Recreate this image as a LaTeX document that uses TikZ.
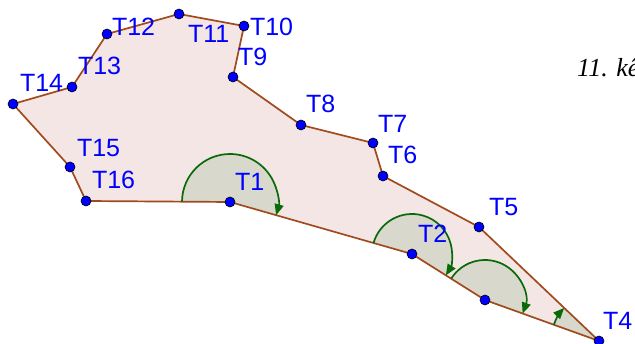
\documentclass[tikz,border=0pt]{standalone}
\usepackage{fontspec}
\setmainfont{Liberation Sans}
\newfontfamily\serifit{Liberation Serif}[Scale=1]
\usetikzlibrary{arrows.meta,calc}
\definecolor{edgebrown}{HTML}{A04A1E}
\definecolor{polyfill}{HTML}{F3E6E4}
\definecolor{secfill}{HTML}{D8D8CC}
\definecolor{arcgreen}{HTML}{0A6A0A}
\definecolor{ptblue}{HTML}{0000FF}
\tikzset{
  edge/.style={draw=edgebrown, line width=1.7pt, line join=round},
  sector/.style={fill=secfill},
  arcline/.style={draw=arcgreen, line width=1.7pt, -{Triangle[length=11pt,width=9pt]}},
  pt/.style={circle, fill=ptblue, draw=black, line width=0.6pt, minimum size=10pt, inner sep=0pt},
  lbl/.style={text=ptblue, font=\fontsize{25}{25}\selectfont, anchor=base west, inner sep=0pt, outer sep=0pt}
}
\newcommand\angsector[4]{%
  \fill[sector] let \p1=($(#2)-(#1)$), \p2=($(#3)-(#1)$),
     \n1={atan2(\y1,\x1)}, \n2={atan2(\y2,\x2)} in
     (#1) -- ++(\n1:#4) arc[start angle=\n1, end angle=\n2, radius=#4] -- cycle;}
\newcommand\angarc[4]{%
  \draw[arcline] let \p1=($(#2)-(#1)$), \p2=($(#3)-(#1)$),
     \n1={atan2(\y1,\x1)}, \n2={atan2(\y2,\x2)} in
     ($(#1)+(\n1:#4)$) arc[start angle=\n1, end angle=\n2, radius=#4];}
\begin{document}
\begin{tikzpicture}[x=1pt,y=1pt]
\useasboundingbox (0,0) rectangle (635,344);
\clip (0,0) rectangle (635,344);
\coordinate (T1) at (230,142);
\coordinate (T2) at (412,90);
\coordinate (T3) at (485,44);
\coordinate (T4) at (599,3);
\coordinate (T5) at (479,117);
\coordinate (T6) at (383,168);
\coordinate (T7) at (373,201);
\coordinate (T8) at (301,219);
\coordinate (T9) at (233,267);
\coordinate (T10) at (244,318);
\coordinate (T11) at (179,330);
\coordinate (T12) at (107,310);
\coordinate (T13) at (72,257);
\coordinate (T14) at (13,240);
\coordinate (T15) at (70,177);
\coordinate (T16) at (86,143);
\fill[polyfill] (T1) -- (T2) -- (T3) -- (T4) -- (T5) -- (T6) -- (T7) -- (T8) -- (T9) -- (T10) -- (T11) -- (T12) -- (T13) -- (T14) -- (T15) -- (T16) -- cycle;
\angsector{T1}{T16}{T2}{48}
\angsector{T2}{T1}{T3}{40}
\angsector{T3}{T2}{T4}{40}
\angsector{T4}{T3}{T5}{48}
\draw[edge] (T1) -- (T2) -- (T3) -- (T4) -- (T5) -- (T6) -- (T7) -- (T8) -- (T9) -- (T10) -- (T11) -- (T12) -- (T13) -- (T14) -- (T15) -- (T16) -- cycle;
\angarc{T1}{T16}{T2}{48}
\angarc{T2}{T1}{T3}{40}
\angarc{T3}{T2}{T4}{40}
\angarc{T4}{T3}{T5}{48}
\foreach \i in {1,...,16} { \node[pt] (P\i) at (T\i) {}; }
\node[lbl] (L1) at (235,153) {T1};
\node[lbl] (L2) at (418,101) {T2};
\node[lbl] (L4) at (603,14) {T4};
\node[lbl] (L5) at (489,128) {T5};
\node[lbl] (L6) at (388,180) {T6};
\node[lbl] (L7) at (378,211) {T7};
\node[lbl] (L8) at (306,231) {T8};
\node[lbl] (L9) at (238,278) {T9};
\node[lbl] (L10) at (250,308) {T10};
\node[lbl] (L11) at (188,301) {T11};
\node[lbl] (L12) at (112,308) {T12};
\node[lbl] (L13) at (78,269) {T13};
\node[lbl] (L14) at (20,252) {T14};
\node[lbl] (L15) at (77,187) {T15};
\node[lbl] (L16) at (92,155) {T16};
\node[anchor=base west, inner sep=0pt, font=\serifit\itshape\fontsize{26}{26}\selectfont] (cap) at (577,267) {11. kê};
\end{tikzpicture}
\end{document}
